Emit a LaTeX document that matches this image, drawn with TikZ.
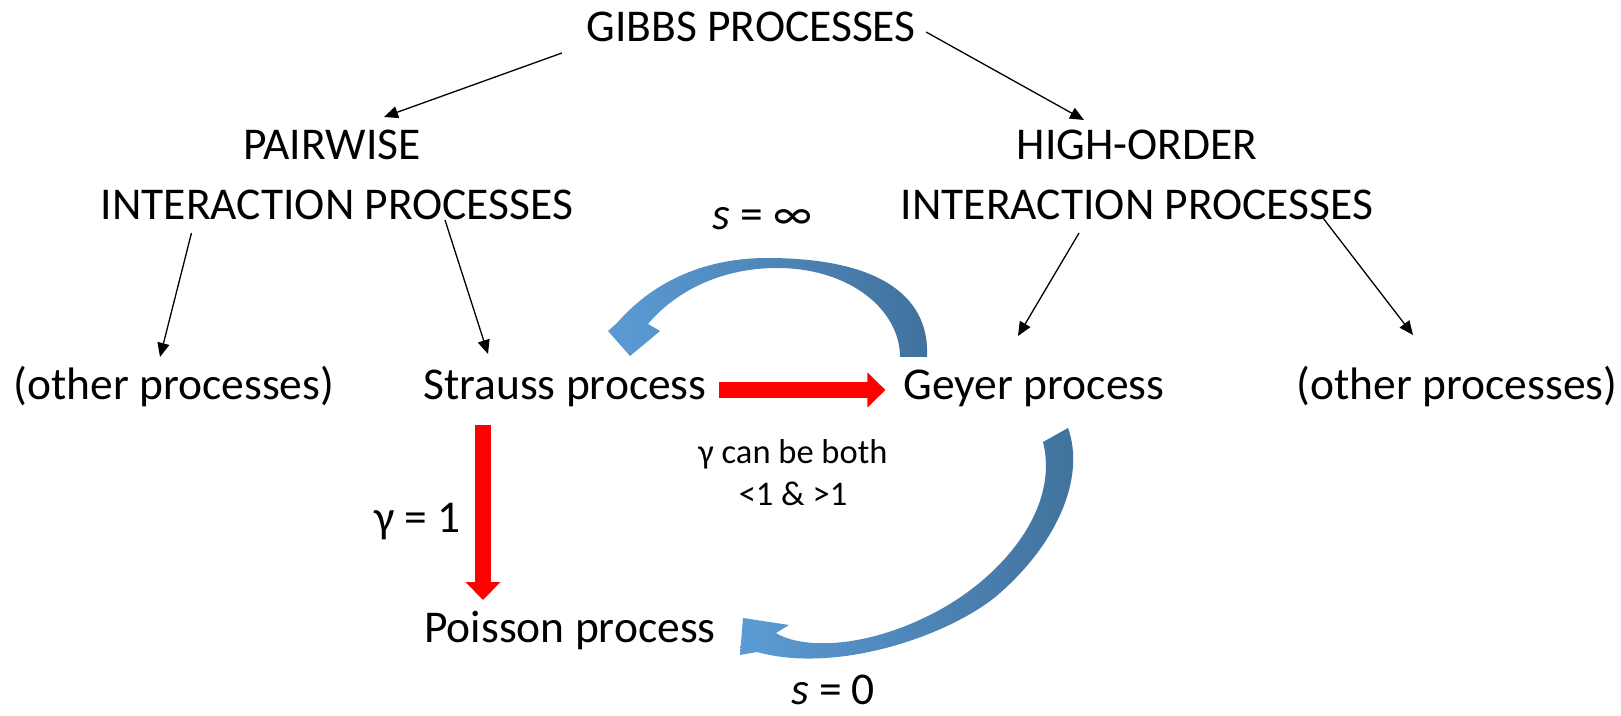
\documentclass[tikz,border=0pt]{standalone}
\usepackage{fontspec}
\setmainfont{Carlito}
\usetikzlibrary{arrows.meta,calc}

\definecolor{arclight}{HTML}{5B9BD5}
\definecolor{arcdark}{HTML}{41719C}

\tikzset{
  proc/.style={inner sep=0pt, anchor=base, font=\fontsize{22.75}{27}\selectfont},
  note/.style={inner sep=0pt, anchor=base, font=\fontsize{17.25}{21}\selectfont},
  thinarrow/.style={-{Triangle[length=7pt,width=6pt]}, line width=0.65pt},
  redarrow/.style={-{Triangle[length=9pt,width=17pt]}, line width=8pt, red},
}

\begin{document}
\begin{tikzpicture}[x=0.5pt,y=-0.5pt]
    \useasboundingbox (0,0) rectangle (1621,716);
      % process names
      \node[proc] (gibbs) at (751,42) {GIBBS PROCESSES};
      \node[proc] (pairwise) at (332,160) {PAIRWISE};
      \node[proc] (pairint) at (337,220) {INTERACTION PROCESSES};
      \node[proc] (highorder) at (1137,160) {HIGH-ORDER};
      \node[proc] (highint) at (1137,220) {INTERACTION PROCESSES};
      \node[proc] (otherleft) at (174,400) {(other processes)};
      \node[proc] (strauss) at (565,400) {Strauss process};
      \node[proc] (geyer) at (1034,400) {Geyer process};
      \node[proc] (otherright) at (1457,400) {(other processes)};
      \node[proc] (poisson) at (570,642) {Poisson process};
      % labels
      \node[proc,anchor=base east] (gammaone) at (461,532) {γ = 1};
      \node[note] (bothline) at (793,463) {γ can be both};
      \node[note] (bothrange) at (793,505) {<1 \& >1};
      \node[proc] (sinf) at (762,230) {\textit{s} = ∞};
      \node[proc] (szero) at (833,704) {\textit{s} = 0};
      % tree edges
      \draw[thinarrow] ($(gibbs.base west)+(-24,11)$) -- ($(pairwise.base)+(52,-43)$);
      \draw[thinarrow] ($(gibbs.base east)+(10,-10)$) -- ($(highorder.base)+(-53,-40)$);
      \draw[thinarrow] ($(pairint.base west)+(91,13)$) -- ($(otherleft.base)+(-14,-43)$);
      \draw[thinarrow] ($(pairint.base)+(108,0)$) -- ($(strauss.base)+(-77,-46)$);
      \draw[thinarrow] ($(highint.base)+(-58,13)$) -- ($(geyer.base)+(-16,-64)$);
      \draw[thinarrow] ($(highint.base)+(186,-2)$) -- ($(otherright.base)+(-44,-65)$);
      % red arrows
      \draw[redarrow] ($(strauss.base east)+(12,-10)$) -- ($(geyer.base west)+(-18,-10)$);
      \draw[redarrow] ($(strauss.base)+(-82,25)$) -- ($(poisson.base)+(-87,-42)$);
      % blue curved arrows
      \shade[left color=arclight,right color=arcdark]
        (927,357) .. controls (930,300) and (885,258) .. (767,258)
        .. controls (700,258) and (650,285) .. (617,323)
        -- (608,331) -- (630,356) -- (660,331) -- (648,324)
        .. controls (675,292) and (720,268) .. (777,268)
        .. controls (850,268) and (900,310) .. (900,357) -- cycle;
      \shade[left color=arclight,right color=arcdark]
        (1043,442) -- (1068,428) .. controls (1085,475) and (1060,540) .. (1000,593)
        .. controls (955,633) and (840,675) .. (757,652)
        -- (740,655) -- (743,618) -- (789,625) -- (776,633)
        .. controls (800,648) and (860,650) .. (930,615)
        .. controls (1000,580) and (1060,510) .. (1043,442) -- cycle;
\end{tikzpicture}
\end{document}
